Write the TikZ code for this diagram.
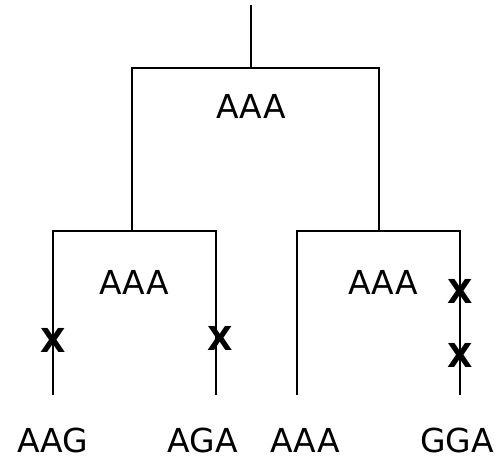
\documentclass[tikz,border=0pt]{standalone}
\usepackage{fontspec}
\setmainfont{DejaVu Sans}
\begin{document}
\begin{tikzpicture}[x=1pt,y=-1pt,line width=2pt,
  lbl/.style={inner sep=0pt,anchor=base,font=\fontsize{33}{36}\selectfont},
  mut/.style={inner sep=0pt,anchor=base,font=\fontsize{33}{36}\selectfont\bfseries}]
\useasboundingbox (0,0) rectangle (500,460);
% tree points
\coordinate (top) at (251,5);
\coordinate (r) at (251,68);
\coordinate (rl) at (132,68);
\coordinate (rr) at (379,68);
\coordinate (a) at (132,231);
\coordinate (b) at (379,231);
\coordinate (al) at (53,231);
\coordinate (ar) at (216,231);
\coordinate (bl) at (297,231);
\coordinate (br) at (460,231);
\coordinate (l1) at (53,395);
\coordinate (l2) at (216,395);
\coordinate (l3) at (297,395);
\coordinate (l4) at (460,395);
% connectors
\draw (top) -- (r);
\draw (a) -- (rl) -- (rr) -- (b);
\draw (l1) -- (al) -- (ar) -- (l2);
\draw (l3) -- (bl) -- (br) -- (l4);
% labels
\node[lbl] (t0) at (251,118) {AAA};
\node[lbl] (t1) at (134,294) {AAA};
\node[lbl] (t2) at (383,294) {AAA};
\node[lbl] (s1) at (53,452) {AAG};
\node[lbl] (s2) at (203,452) {AGA};
\node[lbl] (s3) at (305,452) {AAA};
\node[lbl] (s4) at (457,452) {GGA};
% mutations
\node[mut] (m1) at (53,352) {X};
\node[mut] (m2) at (220,350) {X};
\node[mut] (m3) at (460,303) {X};
\node[mut] (m4) at (460,367) {X};
\end{tikzpicture}
\end{document}
